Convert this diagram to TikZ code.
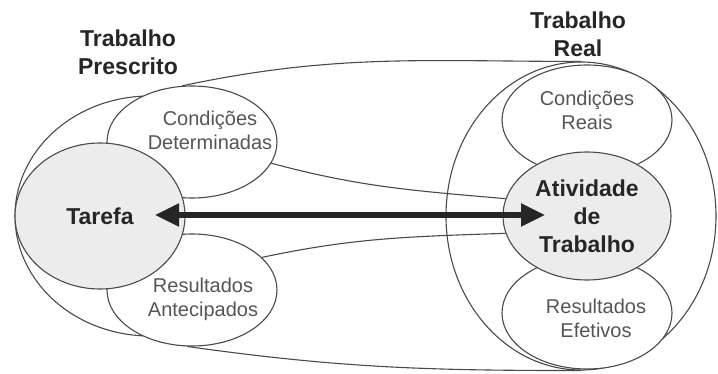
\documentclass[tikz,border=0pt]{standalone}
\usepackage{fontspec}
\setmainfont{Liberation Sans}
\usetikzlibrary{shapes.geometric,arrows.meta}
\definecolor{linegrey}{HTML}{4A4A4A}
\definecolor{textgrey}{HTML}{555555}
\definecolor{boldgrey}{HTML}{262626}
\definecolor{fillgrey}{HTML}{ECECEC}

\begin{document}
\begin{tikzpicture}
      [x=1pt, y=1pt,
       bubble/.style={ellipse, draw=linegrey, line width=1.1pt, fill=white, inner sep=0pt},
       core/.style={bubble, fill=fillgrey, text=boldgrey, font=\fontsize{23}{28}\selectfont\bfseries, align=center},
       small/.style={text=textgrey, font=\fontsize{20}{24}\selectfont, align=center, inner sep=0pt},
       heading/.style={text=boldgrey, font=\fontsize{23}{28}\selectfont\bfseries, align=center, inner sep=0pt},
       edge/.style={draw=linegrey, line width=1.1pt},
       both/.style={{Triangle[length=24pt,width=22pt]}-{Triangle[length=24pt,width=22pt]}, line width=5.5pt, draw=boldgrey}]
      \useasboundingbox (0,0) rectangle (718,-374);
      % outer contour of the prescribed work
      \draw[edge] (150,-96) arc[start angle=90, end angle=272, x radius=135, y radius=120];
      % real work
      \node[bubble, fill=none, minimum width=270pt, minimum height=308pt] (real) at (581,-216) {};
      \node[bubble, minimum width=170pt, minimum height=110pt] (condr) at (587,-120) {};
      \node[bubble, minimum width=170pt, minimum height=112pt] (resef) at (587,-313) {};
      \node[core, minimum width=168pt, minimum height=128pt] (ativ) at (587,-216) {Atividade\\de\\Trabalho};
      % prescribed work
      \node[bubble, minimum width=170pt, minimum height=112pt] (condd) at (192,-142) {};
      \node[bubble, minimum width=170pt, minimum height=112pt] (resant) at (192,-290) {};
      \node[core, minimum width=170pt, minimum height=146pt] (tarefa) at (100,-216) {Tarefa};
      \draw[edge] (condd.100) to[out=12, in=180] (real.north);
      \draw[edge] (resant.265) to[out=-8, in=180] (real.south);
      \draw[edge] (condd.-15) to[out=-15, in=175] (ativ.168);
      \draw[edge] (resant.25) to[out=12, in=182] (ativ.192);
      \coordinate (tipL) at (155,-215);
      \coordinate (tipR) at (545,-215);
      \draw[both] (tipL) -- (tipR);
      \node[heading] (prescrito) at (128,-52) {Trabalho\\Prescrito};
      \node[heading] (realtitle) at (578,-34) {Trabalho\\Real};
      \node[small] (conddtxt) at (210,-130) {Condições\\Determinadas};
      \node[small] (resanttxt) at (203,-299) {Resultados\\Antecipados};
      \node[small] (condrtxt) at (587,-110) {Condições\\Reais};
      \node[small] (reseftxt) at (596,-318) {Resultados\\Efetivos};
\end{tikzpicture}
\end{document}
